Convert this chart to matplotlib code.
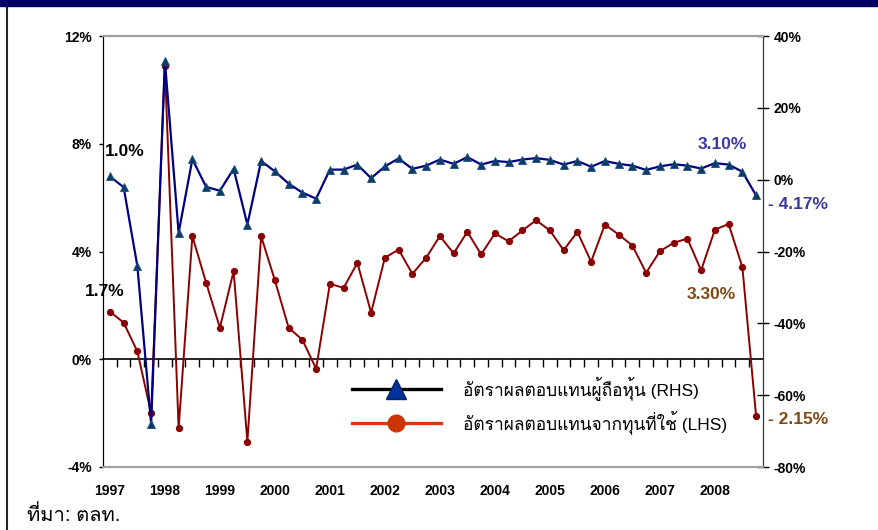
import numpy as np
import matplotlib
matplotlib.use("Agg")
import matplotlib.pyplot as plt
from matplotlib import font_manager
from matplotlib.ft2font import FT2Font
from matplotlib.patches import Rectangle
from matplotlib.lines import Line2D

# ---------------- data ----------------
years = ["1997", "1998", "1999", "2000", "2001", "2002",
         "2003", "2004", "2005", "2006", "2007", "2008"]

# Return on capital employed (LHS, %), quarterly 1997Q1-2008Q4
roce_lhs = [1.77, 1.36, 0.29, -2.01, 10.9, -2.56, 4.57, 2.84, 1.17, 3.27,
            -3.06, 4.57, 2.93, 1.17, 0.72, -0.35, 2.80, 2.65, 3.58, 1.73,
            3.77, 4.07, 3.17, 3.77, 4.57, 3.93, 4.73, 3.89, 4.67, 4.38,
            4.78, 5.16, 4.78, 4.05, 4.73, 3.62, 5.00, 4.63, 4.22, 3.21,
            4.01, 4.32, 4.48, 3.30, 4.81, 5.02, 3.42, -2.12]

# Return on equity (RHS, %)
roe_rhs = [0.9, -2.1, -24.1, -68.0, 33.1, -14.8, 5.7, -2.0, -3.1, 3.0,
           -12.5, 5.2, 2.3, -1.1, -3.6, -5.3, 2.8, 2.8, 4.2, 0.4,
           3.7, 5.9, 3.0, 3.9, 5.6, 4.4, 6.3, 4.2, 5.2, 4.9,
           5.6, 6.0, 5.5, 4.2, 5.2, 3.6, 5.2, 4.4, 3.9, 2.7,
           3.7, 4.3, 3.9, 3.1, 4.6, 4.2, 2.2, -4.4]

left_ticks = [-4, 0, 4, 8, 12]
right_ticks = [-80, -60, -40, -20, 0, 20, 40]

legend_labels = ["อัตราผลตอบแทนผู้ถือหุ้น (RHS)",
                 "อัตราผลตอบแทนจากทุนที่ใช้ (LHS)"]
source_text = "ที่มา: ตลท."


# ---------------- fonts ----------------
def find_thai_family():
    names = []
    for fe in font_manager.fontManager.ttflist:
        try:
            cmap = FT2Font(fe.fname).get_charmap()
        except Exception:
            continue
        if 0x0E2D in cmap and 0x0E49 in cmap and 0x0E17 in cmap:
            names.append(fe.name)
    return names[0] if names else None


thai = find_thai_family()
thai_family = ["Liberation Sans"] + ([thai] if thai else []) + ["DejaVu Sans"]
num_family = ["Liberation Sans", "DejaVu Sans"]

# ---------------- figure ----------------
W, H = 879, 530
fig = plt.figure(figsize=(W / 100, H / 100), dpi=100)
fig.patch.set_facecolor("white")

ax = fig.add_axes([103 / W, 1 - 467 / H, 660 / W, 431 / H])
ax2 = ax.twinx()

x = np.arange(len(roce_lhs))

ax.plot(x, roce_lhs, color="#8b0000", lw=1.4, marker="o", ms=4.2,
        mfc="#8b0000", mec="#8b0000", zorder=3)
ax2.plot(x, roe_rhs, color="#000080", lw=1.6, marker="^", ms=6,
         mfc="#0d3b66", mec="#1a4f80", mew=0.6, zorder=4)

ax.set_xlim(-0.5, len(x) - 0.5)
ax.set_ylim(left_ticks[0], left_ticks[-1])
ax2.set_ylim(right_ticks[0], right_ticks[-1])

ax.set_yticks(left_ticks)
ax.set_yticklabels([f"{v}%" for v in left_ticks])
ax2.set_yticks(right_ticks)
ax2.set_yticklabels([f"{v}%" for v in right_ticks])

ax.set_xticks(x[::4])
ax.set_xticklabels(years)
ax.tick_params(axis="x", length=0, pad=12)
ax.tick_params(axis="y", direction="out", length=3, width=1, pad=5)
ax2.tick_params(axis="y", direction="inout", length=9, width=1, pad=3)

for a in (ax, ax2):
    for lab in a.get_xticklabels() + a.get_yticklabels():
        lab.set_fontfamily(num_family)
        lab.set_fontweight("bold")
        lab.set_fontsize(10)
    a.spines["top"].set_color("#a0a0a0")
    a.spines["bottom"].set_color("#a0a0a0")
    a.spines["top"].set_linewidth(1.5)
    a.spines["bottom"].set_linewidth(1.5)
    a.spines["left"].set_color("black")
    a.spines["right"].set_color("#333333")

# zero line with category-boundary ticks
frac0 = (0 - left_ticks[0]) / (left_ticks[-1] - left_ticks[0])
sec = ax.secondary_xaxis(frac0)
sec.set_xticks(np.arange(0.5, len(x) - 1, 1.0))
sec.tick_params(direction="out", length=6, width=1, labelbottom=False,
                labeltop=False, color="black")
sec.spines["bottom"].set_color("black")
sec.spines["bottom"].set_linewidth(1.2)
sec.set_xticklabels([])

# ---------------- annotations ----------------
blue_lab = "#3a3aa0"
brown_lab = "#7f4a14"
akw = dict(textcoords="offset pixels", va="center", fontweight="bold",
           fontsize=12.5, family=num_family, annotation_clip=False)
ax2.annotate("1.0%", (0, roe_rhs[0]), xytext=(-5, 25), ha="left",
             color="black", **akw)
ax.annotate("1.7%", (0, roce_lhs[0]), xytext=(-25, 20), ha="left",
            color="black", **akw)
ax2.annotate("3.10%", (44, roe_rhs[44]), xytext=(7, 19), ha="center",
             color=blue_lab, **akw)
ax2.annotate("- 4.17%", (47, roe_rhs[47]), xytext=(12, -9), ha="left",
             color=blue_lab, **akw)
ax.annotate("3.30%", (46, roce_lhs[46]), xytext=(-6, -27), ha="right",
            color=brown_lab, **akw)
ax.annotate("- 2.15%", (47, roce_lhs[47]), xytext=(12, -3), ha="left",
            color=brown_lab, **akw)

# ---------------- legend ----------------
handles = [
    Line2D([], [], color="black", lw=2.4, marker="^", ms=14,
           mfc="#003399", mec="#002266"),
    Line2D([], [], color="#d83a0a", lw=2.4, marker="o", ms=12,
           mfc="#cc3300", mec="#cc3300"),
]
fig.legend(handles, legend_labels, loc="center left",
           bbox_to_anchor=(352 / W, 1 - 405 / H), frameon=False,
           numpoints=1, handlelength=5.1, handletextpad=1.3, borderpad=0,
           borderaxespad=0, labelspacing=0.6,
           prop=dict(family=thai_family, size=12.5))

# ---------------- frame decorations ----------------
fig.add_artist(Rectangle((0, 1 - 6 / H), 1, 6 / H, transform=fig.transFigure,
                         color="#000066", zorder=10))
fig.add_artist(Line2D([7.5 / W, 7.5 / W], [0, 1 - 6 / H],
                      transform=fig.transFigure, color="#222222", lw=1.5))

fig.text(27 / W, 1 - 515 / H, source_text, va="center", ha="left",
         fontsize=14.5, family=thai_family)

fig.savefig("out.png", dpi=100)
